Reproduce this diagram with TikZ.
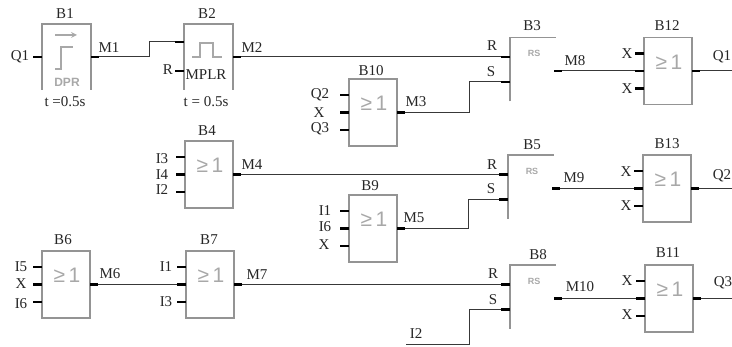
\documentclass[tikz,border=0pt]{standalone}
\usepackage{fontspec}
\setmainfont{Liberation Serif}
\newfontfamily\iconfont{Liberation Sans}
\usetikzlibrary{calc}
\definecolor{boxgray}{gray}{0.58}
\definecolor{icongray}{gray}{0.66}
\definecolor{wirecol}{gray}{0.22}
\tikzset{
    gatebox/.style={draw=boxgray, line width=1.6pt, minimum width=48pt, minimum height=67pt, inner sep=0pt, outer sep=0pt, anchor=north west},
    openbox/.style={minimum width=49pt, minimum height=66pt, inner sep=0pt, outer sep=0pt, anchor=north west},
    rsbox/.style={minimum width=46pt, minimum height=64pt, inner sep=0pt, outer sep=0pt, anchor=north west},
    boxline/.style={draw=boxgray, line width=1.6pt},
    wire/.style={draw=wirecol, line width=1pt},
    pin/.style={draw=black, line width=2.2pt},
    txt/.style={font=\fontsize{15}{17}\selectfont, inner sep=0pt, text=black!85},
    gatesym/.style={font=\iconfont\fontsize{21}{23}\selectfont, inner sep=0pt, text=icongray},
    rssym/.style={font=\iconfont\bfseries\fontsize{9}{10}\selectfont, inner sep=0pt, text=icongray},
    icon/.style={draw=icongray, line width=1.6pt}
}
\begin{document}
\begin{tikzpicture}[x=1pt, y=-1pt]
    \useasboundingbox (0,0) rectangle (732,347);

    % timer blocks, open at the bottom
    \node[openbox] (B1) at (42,24) {};
    \node[openbox] (B2) at (184,24) {};
    \foreach \blk in {B1,B2} {
        \draw[boxline] (\blk.south west) -- (\blk.north west) -- (\blk.north east) -- (\blk.south east);
    }
    \coordinate (B1-a) at ($(B1.north west)+(0,33)$);
    \coordinate (B1-o) at ($(B1.north east)+(0,33)$);
    \coordinate (B2-a) at ($(B2.north west)+(0,18)$);
    \coordinate (B2-r) at ($(B2.north west)+(0,47)$);
    \coordinate (B2-o) at ($(B2.north east)+(0,33)$);

    % RS blocks
    \foreach \blk/\x/\y in {B3/510/37.5, B5/508/155, B8/510/265} {
        \node[rsbox] (\blk) at (\x,\y) {};
        \draw[boxline] (\blk.south west) -- (\blk.north west) -- (\blk.north east);
        \node[rssym] (\blk-sym) at ($(\blk.north)+(1,16)$) {RS};
        \coordinate (\blk-r) at ($(\blk.north west)+(0,19.5)$);
        \coordinate (\blk-s) at ($(\blk.north west)+(0,44.5)$);
        \coordinate (\blk-o) at ($(\blk.north east)+(-2,33.5)$);
    }

    % OR gates
    \foreach \blk/\x/\y in {B4/185/141, B6/42/251, B7/186/251, B9/349/195, B10/349/79, B11/645/265, B12/644/37.5, B13/643/155} {
        \node[gatebox] (\blk) at (\x,\y) {};
        \node[gatesym] (\blk-sym) at ($(\blk.north)+(1,24.5)$) {≥\,1};
        \coordinate (\blk-a) at ($(\blk.north west)+(0,16)$);
        \coordinate (\blk-b) at ($(\blk.north west)+(0,33.5)$);
        \coordinate (\blk-c) at ($(\blk.north west)+(0,51)$);
        \coordinate (\blk-o) at ($(\blk.north east)+(0,33.5)$);
    }

    % free ends
    \coordinate (endQ1) at (732,71);
    \coordinate (endQ2) at (732,188.5);
    \coordinate (endQ3) at (732,298.5);
    \coordinate (endI2) at (406,345);

    % icons
    \draw[icon, ->, >=stealth] (55,35) -- (77,35);
    \draw[icon] (55,69) -- (61,69) -- (61,47) -- (73,47);
    \node[font=\iconfont\bfseries\fontsize{12}{13}\selectfont, inner sep=0pt, text=icongray] (dprsym) at (67,82) {DPR};
    \draw[icon] (192,57) -- (200,57) -- (200,43) -- (213,43) -- (213,57) -- (222,57);

    % connections
    \draw[wire] (B1-o) -- ++(58,0) |- (B2-a);
    \draw[wire] (B2-o) -- (B3-r);
    \draw[wire] (B10-o) -- ++(72,0) |- (B3-s);
    \draw[wire] (B4-o) -- (B5-r);
    \draw[wire] (B9-o) -- ++(71,0) |- (B5-s);
    \draw[wire] (B6-o) -- (B7-b);
    \draw[wire] (B7-o) -- (B8-r);
    \draw[wire] (endI2) -- ++(63,0) |- (B8-s);
    \draw[wire] (B3-o) -- (B12-b);
    \draw[wire] (B5-o) -- (B13-b);
    \draw[wire] (B8-o) -- (B11-b);
    \draw[wire] (B12-o) -- (endQ1);
    \draw[wire] (B13-o) -- (endQ2);
    \draw[wire] (B11-o) -- (endQ3);

    % pins
    \foreach \p in {B1-a,B2-a,B2-r,B3-r,B3-s,B5-r,B5-s,B8-r,B8-s} {
        \draw[pin] (\p) -- ++(-9,0);
    }
    \foreach \blk in {B4,B6,B7,B9,B10,B11,B12,B13} {
        \foreach \p in {a,b,c} {
            \draw[pin] (\blk-\p) -- ++(-9,0);
        }
        \draw[pin] (\blk-o) -- ++(8,0);
    }
    \foreach \p in {B1-o,B2-o,B3-o,B5-o,B8-o} {
        \draw[pin] (\p) -- ++(8,0);
    }

    % labels
    \foreach \lab/\x/\y [count=\i] in {
        B1/65/14, B2/207/14, B3/532/26, B4/207/131, B5/532/145, B6/63/240, B7/209/240,
        B8/538/255, B9/370/186, B10/371/71, B11/668/253, B12/667/26, B13/667/144,
        M1/109/48, M2/252/48, M3/416/102, M4/252/165, M5/414/218, M6/110/274, M7/257/275,
        M8/575/61, M9/574/178, M10/580/287, MPLR/206/75, t =0.5s/65/102, t = 0.5s/206/102,
        Q1/20/57, R/168/70, Q2/320/95, X/319/113, Q3/320/129,
        I3/162/159, I4/162/175, I2/162/190, I1/325/211, I6/325/227, X/324/245,
        I5/21/267, X/21/284, I6/21/304, I1/166/267, I3/166/302, I2/416/334,
        R/492/46, S/491/72, R/492/165, S/491/189, R/493/274, S/493/300,
        X/627/54, X/627/89, X/626/172, X/626/206, X/627/281, X/627/315,
        Q1/722/57, Q2/722/176, Q3/723/283} {
        \node[txt] (lab\i) at (\x,\y) {\lab};
    }
\end{tikzpicture}
\end{document}
